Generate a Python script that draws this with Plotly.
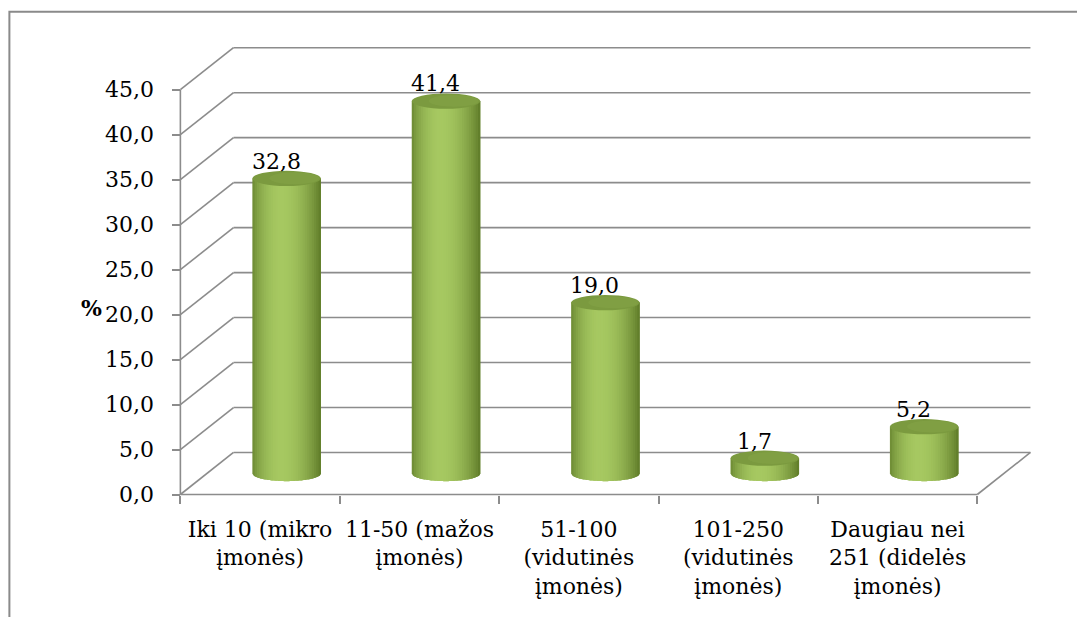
import numpy as np
import plotly.graph_objects as go

# ---- data -------------------------------------------------------------
categories = [
    "Iki 10 (mikro<br>įmonės)",
    "11-50 (mažos<br>įmonės)",
    "51-100<br>(vidutinės<br>įmonės)",
    "101-250<br>(vidutinės<br>įmonės)",
    "Daugiau nei<br>251 (didelės<br>įmonės)",
]
values = [32.8, 41.4, 19.0, 1.7, 5.2]
y_ticks = [0, 5, 10, 15, 20, 25, 30, 35, 40, 45]
y_axis_label = "%"

# ---- layout geometry (pixels) -----------------------------------------
W, H = 1077, 617
PX_LEFT = 180.0        # pixel x of category axis origin
PX_PER_CAT = 159.4     # pixels per category slot
PX_ZERO = 494.5        # pixel y of value 0 on the front axis
PX_PER_UNIT = 8.99     # pixels per percentage point

DEPTH_X = 1.0 / 3.0    # oblique depth, in category units
DEPTH_Y = 4.67         # oblique depth, in value units
BAR_W = 0.43           # cylinder diameter, in category units
CAP_H = 0.85           # half-height of cylinder ellipses, in value units

n = len(categories)
y_max = max(y_ticks)

xr = [-0.04, n + DEPTH_X + 0.06]
yr = [-0.5, y_max + DEPTH_Y + 0.3]

m_l = PX_LEFT + xr[0] * PX_PER_CAT
m_r = W - (m_l + (xr[1] - xr[0]) * PX_PER_CAT)
m_t = PX_ZERO - yr[1] * PX_PER_UNIT
m_b = H - (PX_ZERO - yr[0] * PX_PER_UNIT)

GRID = "#8c8c8c"
FONT = "DejaVu Serif"
FS_TICK = 22
FS_CAT = 22
FS_LABEL = 22

shapes = []

# back-wall gridlines and the oblique side lines
for v in y_ticks:
    shapes.append(dict(type="line", xref="x", yref="y",
                       x0=0, y0=v, x1=DEPTH_X, y1=v + DEPTH_Y,
                       line=dict(color=GRID, width=1.6)))
    shapes.append(dict(type="line", xref="x", yref="y",
                       x0=DEPTH_X, y0=v + DEPTH_Y, x1=n + DEPTH_X, y1=v + DEPTH_Y,
                       line=dict(color=GRID, width=1.6)))
# floor right edge
shapes.append(dict(type="line", xref="x", yref="y",
                   x0=n, y0=0, x1=n + DEPTH_X, y1=DEPTH_Y,
                   line=dict(color=GRID, width=1.6)))
# front axes
shapes.append(dict(type="line", xref="x", yref="y",
                   x0=0, y0=0, x1=0, y1=y_max, line=dict(color=GRID, width=1.6)))
shapes.append(dict(type="line", xref="x", yref="y",
                   x0=0, y0=0, x1=n, y1=0, line=dict(color=GRID, width=1.6)))


def body_color(t):
    dark_l = np.array([104, 134, 48])
    dark_r = np.array([92, 120, 38])
    light = np.array([166, 200, 97])
    peak = 0.42
    if t <= peak:
        f = np.sin((t / peak) * np.pi / 2) ** 0.7
        c = dark_l + (light - dark_l) * f
    else:
        f = np.cos(((t - peak) / (1 - peak)) * np.pi / 2) ** 0.8
        c = dark_r + (light - dark_r) * f
    return "rgb(%d,%d,%d)" % tuple(int(round(x)) for x in c)


# cylinders: vertical shaded strips plus an elliptical top cap
N_STRIPS = 30
base_c = DEPTH_Y / 2.0
for i, v in enumerate(values):
    cx = i + 0.5 + DEPTH_X / 2.0
    r = BAR_W / 2.0
    top_c = v + base_c
    edges = np.linspace(cx - r, cx + r, N_STRIPS + 1)

    def y_bot(x):
        u = np.clip((x - cx) / r, -1, 1)
        return base_c - CAP_H * np.sqrt(1 - u * u)

    for k in range(N_STRIPS):
        a = edges[k]
        b = edges[min(k + 2, N_STRIPS)]  # overlap the next strip to hide seams
        xs = np.linspace(a, b, 5)
        pts = ["%.5f,%.5f" % (a, top_c), "%.5f,%.5f" % (b, top_c)]
        pts += ["%.5f,%.5f" % (x, y_bot(x)) for x in xs[::-1]]
        path = "M " + " L ".join(pts) + " Z"
        shapes.append(dict(type="path", xref="x", yref="y", path=path,
                           fillcolor=body_color((k + 0.5) / N_STRIPS),
                           line=dict(width=0)))
    # top cap
    shapes.append(dict(type="circle", xref="x", yref="y",
                       x0=cx - r, x1=cx + r, y0=top_c - CAP_H, y1=top_c + CAP_H,
                       fillcolor="#7b9a3f", line=dict(width=0)))
    shapes.append(dict(type="circle", xref="x", yref="y",
                       x0=cx - r * 0.5, x1=cx + r * 0.95,
                       y0=top_c - CAP_H * 0.75, y1=top_c + CAP_H * 0.8,
                       fillcolor="#84a446", opacity=0.6, line=dict(width=0)))

# outer frame
px2paper_x = lambda px: (px - m_l) / (W - m_l - m_r)
px2paper_y = lambda py: (H - m_b - py) / (H - m_t - m_b)
shapes.append(dict(type="rect", xref="paper", yref="paper",
                   x0=px2paper_x(9), x1=px2paper_x(W + 20),
                   y0=px2paper_y(H + 20), y1=px2paper_y(12),
                   line=dict(color="#8a8a8a", width=2), fillcolor="rgba(0,0,0,0)"))

annotations = []
for i, v in enumerate(values):
    annotations.append(dict(
        x=i + 0.5 + 0.1, y=v + base_c + 0.3, xref="x", yref="y",
        text=("%.1f" % v).replace(".", ","), showarrow=False,
        yanchor="bottom", xanchor="center",
        font=dict(family=FONT, size=FS_LABEL, color="#000")))
# value-axis unit label, placed in the left margin
annotations.append(dict(
    x=px2paper_x(91), y=px2paper_y(308), xref="paper", yref="paper",
    text="<b>%s</b>" % y_axis_label,
    showarrow=False, xanchor="center", yanchor="middle",
    font=dict(family=FONT, size=FS_LABEL, color="#000")))

fig = go.Figure()
fig.add_trace(go.Scatter(x=[0.5 + i for i in range(n)], y=values, mode="markers",
                         marker=dict(opacity=0), hoverinfo="skip", showlegend=False))

fig.update_layout(
    width=W, height=H, autosize=False,
    margin=dict(l=m_l, r=m_r, t=m_t, b=m_b, pad=0, autoexpand=False),
    paper_bgcolor="white", plot_bgcolor="white",
    separators=", ",
    showlegend=False,
    font=dict(family=FONT, size=FS_TICK, color="#000"),
    shapes=shapes, annotations=annotations,
    xaxis=dict(
        range=xr, showgrid=False, zeroline=False, showline=False,
        tickmode="array", tickvals=[i + 0.5 for i in range(n)], ticktext=categories,
        ticks="", ticklabelstandoff=19, tickangle=0, automargin=False,
        minor=dict(tickmode="array", tickvals=list(range(n + 1)), ticks="outside",
                   ticklen=8, tickwidth=1.6, tickcolor=GRID, showgrid=False),
        anchor="free", position=(0 - yr[0]) / (yr[1] - yr[0]),
        tickfont=dict(family=FONT, size=FS_CAT, color="#000"),
    ),
    yaxis=dict(
        range=yr, showgrid=False, zeroline=False, showline=False,
        tickmode="array", tickvals=y_ticks, tickformat=".1f",
        ticks="outside", ticklen=8, tickwidth=1.6, tickcolor=GRID,
        ticklabelstandoff=14, automargin=False,
        anchor="free", position=(0 - xr[0]) / (xr[1] - xr[0]),
        tickfont=dict(family=FONT, size=FS_TICK, color="#000"),
    ),
)

fig.write_html("out.html")
